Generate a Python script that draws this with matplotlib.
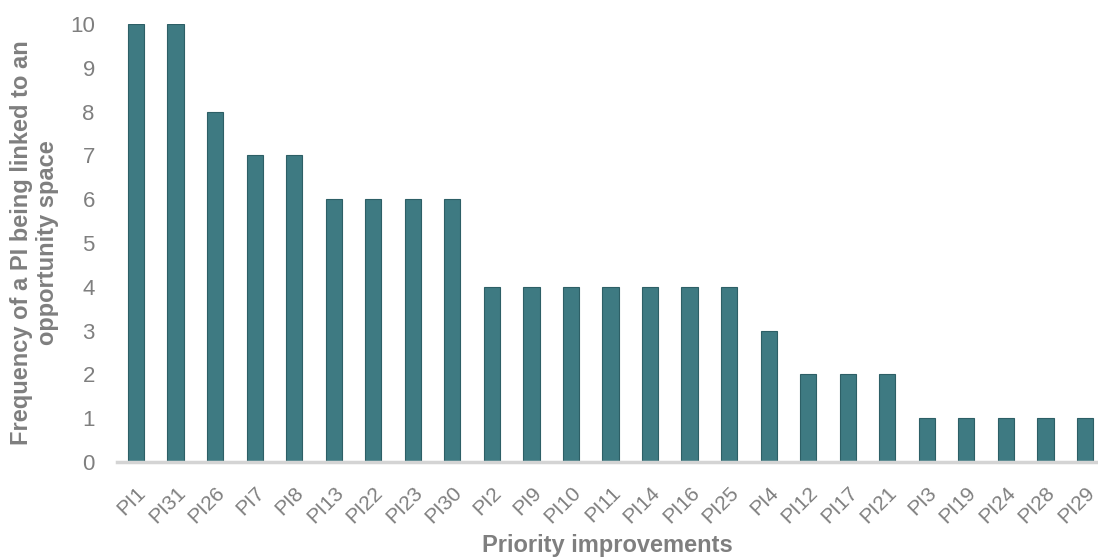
import numpy as np
import matplotlib.pyplot as plt

plt.rcParams['font.family'] = ['Liberation Sans', 'DejaVu Sans']

# data
labels = ['PI1', 'PI31', 'PI26', 'PI7', 'PI8', 'PI13', 'PI22', 'PI23', 'PI30',
          'PI2', 'PI9', 'PI10', 'PI11', 'PI14', 'PI16', 'PI25', 'PI4', 'PI12',
          'PI17', 'PI21', 'PI3', 'PI19', 'PI24', 'PI28', 'PI29']
counts = [10, 10, 8, 7, 7, 6, 6, 6, 6, 4, 4, 4, 4, 4, 4, 4, 3, 2, 2, 2, 1, 1, 1, 1, 1]

grey = '#7f7f7f'

fig = plt.figure(figsize=(10.98, 5.59), dpi=100)
ax = fig.add_axes([0.1066, 0.1735, 0.8934, 0.7835])

x = np.arange(len(labels))
ax.bar(x, counts, width=0.41, color='#3e7a82', edgecolor='#2d5f66', linewidth=0.8, zorder=2)

ax.set_xlim(-0.48, len(labels) - 1 + 0.33)
ax.set_ylim(0, 10)
ax.set_yticks(range(0, 11))
ax.set_xticks(x)
ax.set_xticklabels(labels, rotation=45, ha='right', rotation_mode='anchor')

for s in ['top', 'right', 'left']:
    ax.spines[s].set_visible(False)
ax.spines['bottom'].set_color('#d4d4d4')
ax.spines['bottom'].set_linewidth(2.5)
ax.spines['bottom'].set_zorder(3)

ax.tick_params(axis='y', length=0, labelsize=16, labelcolor=grey, pad=16)
ax.tick_params(axis='x', length=0, labelsize=15, labelcolor=grey, pad=15)

ax.set_xlabel('Priority improvements', fontsize=17, fontweight='bold', color=grey, labelpad=5)
ax.set_ylabel('Frequency of a PI being linked to an\nopportunity space', fontsize=17,
              fontweight='bold', color=grey, labelpad=8, linespacing=1.15)

fig.savefig('out.png', dpi=100)
